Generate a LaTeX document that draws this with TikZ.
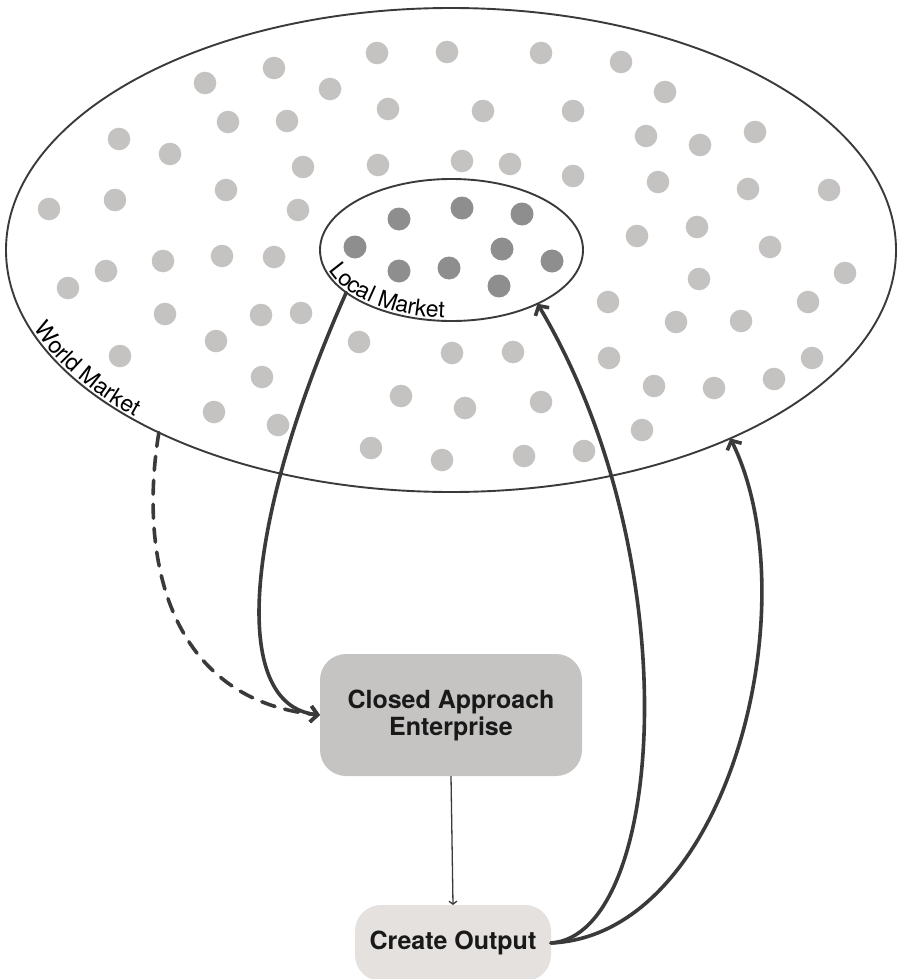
\documentclass[tikz,border=0pt]{standalone}
\usepackage{fontspec}
\setmainfont{TeX Gyre Heros}
\usetikzlibrary{shapes.geometric,arrows.meta,decorations.text}
\definecolor{lightdot}{HTML}{C4C3C2}
\definecolor{darkdot}{HTML}{8E8E8E}
\definecolor{linecol}{HTML}{3A3A3A}
\definecolor{caefill}{HTML}{C5C4C3}
\definecolor{cofill}{HTML}{E4E1DF}
\begin{document}
\begin{tikzpicture}[x=1pt,y=1pt,
  market/.style={ellipse, draw=linecol, line width=1.9pt, inner sep=0pt, outer sep=0pt},
  ldot/.style={fill=lightdot},
  ddot/.style={fill=darkdot},
  box/.style={rounded corners=26pt, inner sep=0pt, outer sep=0pt, align=center,
    font=\bfseries\fontsize{25}{27}\selectfont, text=black!90},
  bigarrow/.style={draw=linecol, line width=3.6pt, line cap=round, line join=round,
    -{Straight Barb[length=7pt,width=16pt]}},
  dasharrow/.style={bigarrow, dash pattern=on 14pt off 10pt},
  thinarrow/.style={draw=linecol, line width=1.3pt, -{Straight Barb[length=3pt,width=8pt]}},
  curvelabel/.style={decorate, decoration={text along path, text align=center, raise=3pt}}
]
\useasboundingbox (0,0) rectangle (899,-979);

% world market
\node[market, minimum width=890pt, minimum height=484pt] (world) at (451,-250) {};

\foreach \x/\y in {377/53,447/52,541/53,621/62,274/68,205/83,330/89,665/92,
  388/109,483/111,573/111,228/122,287/121,119/139,170/154,646/136,700/145,755/132,
  303/167,378/165,462/161,510/164,573/176,658/182,748/189,829/190,
  226/190,115/200,49/209,298/210,
  637/236,697/227,770/247,
  68/288,106/271,163/261,222/256,274/257,
  699/279,845/273,608/302,676/322,741/321,808/302,
  165/314,261/315,301/313,216/341,120/356,262/377,214/412,278/425,
  359/342,452/353,513/352,609/358,812/358,
  401/396,465/408,541/402,654/386,714/388,774/379,
  371/448,442/460,524/456,584/451,642/430}
  \fill[ldot] (\x,-\y) circle (11.3pt);

% local market
\node[market, minimum width=263pt, minimum height=142pt] (local) at (451.5,-250) {};

\foreach \x/\y in {399/219,462/208,522/214,355/247,502/249,552/261,399/271,449/268,499/286}
  \fill[ddot] (\x,-\y) circle (11.5pt);

% curved labels
\path[curvelabel, decoration={text={|\fontsize{23}{23}\selectfont|World Market}}]
  (451,-250) ++(196:445pt and 242pt)
  arc[start angle=196, end angle=227, x radius=445pt, y radius=242pt];
\path[curvelabel, decoration={text={|\fontsize{23}{23}\selectfont|Local Market}}]
  (451.5,-250) ++(193:131.5pt and 71pt)
  arc[start angle=193, end angle=270, x radius=131.5pt, y radius=71pt];

% boxes
\node[box, fill=caefill, minimum width=262pt, minimum height=122pt] (cae) at (451,-715)
  {Closed Approach\\Enterprise};
\node[box, fill=cofill, minimum width=196pt, minimum height=76pt] (co) at (453,-943)
  {Create Output};

% connectors
\draw[dasharrow] (world.212.5) .. controls (138,-560) and (170,-700) .. (cae.west);
\draw[bigarrow] (local.202.9) .. controls (245,-520) and (228,-705) .. (cae.west);
\draw[thinarrow] (cae.south) -- (co.north);
\draw[bigarrow] (co.east) .. controls (665,-935) and (690,-560) .. (local.328.3);
\draw[bigarrow] (co.east) .. controls (730,-935) and (810,-600) .. (world.326);
\end{tikzpicture}
\end{document}
